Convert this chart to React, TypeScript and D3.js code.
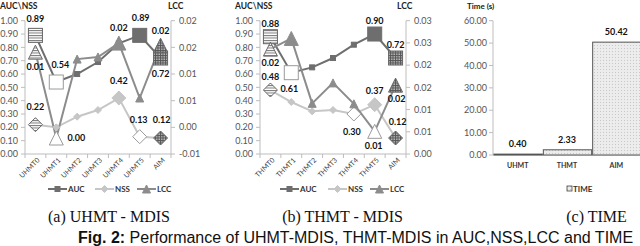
import React from 'react';
import * as d3 from 'd3';

// ---------- data ----------
const catsA = ['UHMT0', 'UHMT1', 'UHMT2', 'UHMT3', 'UHMT4', 'UHMT5', 'AIM'];
const aucA = [0.89, 0.54, 0.6, 0.69, 0.83, 0.89, 0.72];
const nssA = [0.22, 0.2, 0.28, 0.33, 0.42, 0.13, 0.12];
const lccA = [0.0141, -0.002, 0.0128, 0.0132, 0.0158, 0.0055, 0.0154];

const catsB = ['THMT0', 'THMT1', 'THMT2', 'THMT3', 'THMT4', 'THMT5', 'AIM'];
const aucB = [0.88, 0.61, 0.65, 0.72, 0.82, 0.9, 0.72];
const nssB = [0.48, 0.39, 0.32, 0.33, 0.3, 0.37, 0.12];
const lccB = [0.0236, 0.026, 0.0114, 0.016, 0.0113, 0.0051, 0.0155];

const leftTicks = [0, 0.1, 0.2, 0.3, 0.4, 0.5, 0.6, 0.7, 0.8, 0.9, 1.0];
const leftTickLabels = ['0.00', '0.10', '0.20', '0.30', '0.40', '0.50', '0.60', '0.70', '0.80', '0.90', '1.00'];
const rightTicksA = [-0.005, 0, 0.005, 0.01, 0.015, 0.02];
const rightTickLabelsA = ['-0.01', '0.00', '0.01', '0.01', '0.02', '0.02'];
const rightTicksB = [0, 0.005, 0.01, 0.015, 0.02, 0.025, 0.03];
const rightTickLabelsB = ['0.00', '0.01', '0.01', '0.02', '0.02', '0.03', '0.03'];

const timeCats = ['UHMT', 'THMT', 'AIM'];
const timeVals = [0.4, 2.33, 50.42];
const timeTicks = [0, 10, 20, 30, 40, 50, 60];
const timeTickLabels = ['0.00', '10.00', '20.00', '30.00', '40.00', '50.00', '60.00'];

// ---------- styles ----------
const FONT = 'Lato, "Liberation Sans", sans-serif';
const COLORS: Record<string, string> = { AUC: '#6e6e6e', NSS: '#c6c6c6', LCC: '#8c8c8c' };
const SHAPES: Record<string, string> = { AUC: 'square', NSS: 'diamond', LCC: 'triangle' };
const TOP = 20.7;
const BOT = 154;

type Hl = Record<number, string>;

function Marker({ shape, cx, cy, size, fill, stroke, sw = 1 }: any) {
  const h = size / 2;
  if (shape === 'square')
    return <rect x={cx - h} y={cy - h} width={size} height={size} fill={fill} stroke={stroke} strokeWidth={sw} />;
  if (shape === 'diamond')
    return (
      <polygon
        points={`${cx},${cy - h} ${cx + h},${cy} ${cx},${cy + h} ${cx - h},${cy}`}
        fill={fill}
        stroke={stroke}
        strokeWidth={sw}
      />
    );
  return (
    <polygon
      points={`${cx},${cy - h} ${cx + h},${cy + h} ${cx - h},${cy + h}`}
      fill={fill}
      stroke={stroke}
      strokeWidth={sw}
    />
  );
}

const smallSize: Record<string, number> = { square: 5, diamond: 7, triangle: 8 };

function specialStyle(kind: string, key: string) {
  if (kind === 'first') return { fill: 'url(#hlines)', stroke: '#666' };
  if (kind === 'last') return { fill: 'url(#gridpat)', stroke: '#666' };
  if (kind === 'min') return { fill: '#ffffff', stroke: '#9a9a9a' };
  return { fill: COLORS[key], stroke: COLORS[key] };
}

function LineChart({ x0, x1, cats, series, rDomain, rTicks, rLabels, labels, titleX, lccX, legendX, highlights }: any) {
  const yL = d3.scaleLinear().domain([0, 1]).range([BOT, TOP]);
  const yR = d3.scaleLinear().domain(rDomain).range([BOT, TOP]);
  const xb = d3.scaleBand().domain(cats).range([x0, x1]).padding(0);
  const bw = xb.bandwidth();
  const cx = (c: string) => (xb(c) as number) + bw / 2;
  const ys: Record<string, any> = { AUC: yL, NSS: yL, LCC: yR };
  const order = ['AUC', 'NSS', 'LCC'];
  const fmt = (v: number) => {
    const s = v.toFixed(2);
    return s === '-0.00' ? '0.00' : s;
  };
  return (
    <g fontFamily={FONT}>
      {/* axis titles */}
      <text x={titleX} y={9} fontSize={8.5} fontWeight="bold" fill="#222">
        AUC\NSS
      </text>
      <text x={lccX} y={9} fontSize={8.5} fontWeight="bold" fill="#222">
        LCC
      </text>
      {/* left axis */}
      <line x1={x0} x2={x0} y1={TOP} y2={BOT} stroke="#bdbdbd" />
      {leftTicks.map((t, i) => (
        <g key={'l' + i}>
          <line x1={x0 - 4} x2={x0} y1={yL(t)} y2={yL(t)} stroke="#bdbdbd" />
          <text x={x0 - 7} y={yL(t)} dy="0.35em" textAnchor="end" fontSize={9} fill="#555">
            {leftTickLabels[i]}
          </text>
        </g>
      ))}
      {/* right axis */}
      <line x1={x1} x2={x1} y1={TOP} y2={BOT} stroke="#bdbdbd" />
      {rTicks.map((t: number, i: number) => (
        <g key={'r' + i}>
          <line x1={x1} x2={x1 + 4} y1={yR(t)} y2={yR(t)} stroke="#bdbdbd" />
          <text x={x1 + 8} y={yR(t)} dy="0.35em" textAnchor="start" fontSize={9} fill="#555">
            {rLabels[i]}
          </text>
        </g>
      ))}
      {/* bottom axis */}
      <line x1={x0} x2={x1} y1={BOT} y2={BOT} stroke="#bdbdbd" />
      {cats.map((c: string, i: number) => (
        <g key={'c' + i}>
          <line x1={xb(c) as number} x2={xb(c) as number} y1={BOT} y2={BOT + 4} stroke="#bdbdbd" />
          <text
            transform={`translate(${cx(c) + 3},${BOT + 5}) rotate(-45)`}
            textAnchor="end"
            fontSize={7}
            fill="#444"
            dy="0.35em"
          >
            {c}
          </text>
        </g>
      ))}
      <line x1={x1} x2={x1} y1={BOT} y2={BOT + 4} stroke="#bdbdbd" />
      {/* lines */}
      {order.map((k) => {
        const line = d3
          .line<number>()
          .x((_, i) => cx(cats[i]))
          .y((v) => ys[k](v));
        return <path key={'p' + k} d={line(series[k]) as string} fill="none" stroke={COLORS[k]} strokeWidth={2} />;
      })}
      {/* markers */}
      {order.map((k) =>
        series[k].map((v: number, i: number) => {
          const kind = (highlights[k] as Hl)[i];
          const shape = SHAPES[k];
          if (kind) {
            const st = specialStyle(kind, k);
            return (
              <Marker key={k + i} shape={shape} cx={cx(cats[i])} cy={ys[k](v)} size={14} fill={st.fill} stroke={st.stroke} />
            );
          }
          return (
            <Marker
              key={k + i}
              shape={shape}
              cx={cx(cats[i])}
              cy={ys[k](v)}
              size={smallSize[shape]}
              fill={COLORS[k]}
              stroke={COLORS[k]}
            />
          );
        })
      )}
      {/* data labels */}
      {labels.map((l: any, j: number) => {
        const v = series[l[0]][l[1]];
        return (
          <text
            key={'dl' + j}
            x={cx(cats[l[1]]) + l[2]}
            y={ys[l[0]](v) + l[3]}
            dy="0.35em"
            textAnchor="middle"
            fontSize={9}
            fontWeight="bold"
            fill="#111"
          >
            {fmt(v)}
          </text>
        );
      })}
      {/* legend */}
      {order.map((k, i) => {
        const lx = legendX[i];
        return (
          <g key={'lg' + k}>
            <line x1={lx} x2={lx + 19} y1={189} y2={189} stroke={COLORS[k]} strokeWidth={2} />
            <Marker shape={SHAPES[k]} cx={lx + 9.5} cy={189} size={smallSize[SHAPES[k]]} fill={COLORS[k]} stroke={COLORS[k]} />
            <text x={lx + 20} y={189} dy="0.35em" fontSize={8} fontWeight="bold" fill="#333">
              {k}
            </text>
          </g>
        );
      })}
    </g>
  );
}

function TimeChart() {
  const x0 = 493;
  const x1 = 641;
  const y = d3.scaleLinear().domain([0, 60]).range([155, TOP]);
  const xb = d3.scaleBand().domain(timeCats).range([x0, x1]).padding(0);
  const bw = xb.bandwidth();
  return (
    <g fontFamily={FONT}>
      <text x={467} y={9} fontSize={8} fontWeight="bold" fill="#222">
        Time (s)
      </text>
      <line x1={x0} x2={x0} y1={TOP} y2={155} stroke="#bdbdbd" />
      {timeTicks.map((t, i) => (
        <g key={'t' + i}>
          <line x1={x0 - 4} x2={x0} y1={y(t)} y2={y(t)} stroke="#bdbdbd" />
          <text x={x0 - 6} y={y(t)} dy="0.35em" textAnchor="end" fontSize={9} fill="#555">
            {timeTickLabels[i]}
          </text>
        </g>
      ))}
      <line x1={x0} x2={x1} y1={155} y2={155} stroke="#bdbdbd" />
      {timeCats.map((c, i) => {
        const bx = xb(c) as number;
        return (
          <g key={'b' + i}>
            <rect x={bx + 1} y={y(timeVals[i])} width={bw - 1} height={155 - y(timeVals[i])} fill="url(#dots)" stroke="#555" strokeWidth={1} />
            <text x={bx + bw / 2} y={y(timeVals[i]) - 10} dy="0.35em" textAnchor="middle" fontSize={9} fontWeight="bold" fill="#111">
              {timeVals[i].toFixed(2)}
            </text>
            <text x={bx + bw / 2} y={166} dy="0.35em" textAnchor="middle" fontSize={7} fontWeight="bold" fill="#333">
              {c}
            </text>
          </g>
        );
      })}
      <rect x={567} y={186} width={5} height={5} fill="url(#dots)" stroke="#444" strokeWidth={0.8} />
      <text x={573} y={189} dy="0.35em" fontSize={8} fontWeight="bold" fill="#333">
        TIME
      </text>
    </g>
  );
}

const labelsA = [
  ['AUC', 0, 0, -17],
  ['AUC', 1, 4, -17],
  ['AUC', 5, 1, -18],
  ['AUC', 6, 0, 16],
  ['NSS', 0, 0, -18],
  ['NSS', 4, 0, -17],
  ['NSS', 5, -1, -17],
  ['NSS', 6, 1, -18],
  ['LCC', 0, 0, 15],
  ['LCC', 1, 20, 0],
  ['LCC', 4, 0, -15],
  ['LCC', 6, 0, -14],
];
const labelsB = [
  ['AUC', 0, 0, -13],
  ['AUC', 1, -2, 16],
  ['AUC', 5, 0, -13],
  ['AUC', 6, 0, -13],
  ['NSS', 0, 0, -13],
  ['NSS', 4, -2, 18],
  ['NSS', 5, 0, -14],
  ['NSS', 6, 2, -16],
  ['LCC', 0, 0, 14],
  ['LCC', 5, -1, 15],
  ['LCC', 6, 1, 14],
];
const hlA = {
  AUC: { 0: 'first', 1: 'min', 5: 'max', 6: 'last' },
  NSS: { 0: 'first', 4: 'max', 5: 'min', 6: 'last' },
  LCC: { 0: 'first', 1: 'min', 4: 'max', 6: 'last' },
};
const hlB = {
  AUC: { 0: 'first', 1: 'min', 5: 'max', 6: 'last' },
  NSS: { 0: 'first', 4: 'min', 5: 'max', 6: 'last' },
  LCC: { 0: 'first', 1: 'max', 5: 'min', 6: 'last' },
};

export default function App() {
  return (
    <svg width={640} height={246} style={{ position: 'absolute', left: 0, top: 0, background: '#fff' }}>
      <defs>
        <pattern id="hlines" width={4} height={2.5} patternUnits="userSpaceOnUse">
          <rect width={4} height={2.5} fill="#fff" />
          <rect width={4} height={1} fill="#777" />
        </pattern>
        <pattern id="gridpat" width={2.5} height={2.5} patternUnits="userSpaceOnUse">
          <rect width={2.5} height={2.5} fill="#bbb" />
          <rect width={2.5} height={1} fill="#555" />
          <rect width={1} height={2.5} fill="#555" />
        </pattern>
        <pattern id="dots" width={3} height={3} patternUnits="userSpaceOnUse">
          <rect width={3} height={3} fill="#ececec" />
          <rect width={1} height={1} fill="#c8c8c8" />
        </pattern>
      </defs>
      <LineChart
        x0={25}
        x1={171}
        cats={catsA}
        series={{ AUC: aucA, NSS: nssA, LCC: lccA }}
        rDomain={[-0.005, 0.02]}
        rTicks={rightTicksA}
        rLabels={rightTickLabelsA}
        labels={labelsA}
        titleX={0}
        lccX={168}
        legendX={[48, 95, 137]}
        highlights={hlA}
      />
      <LineChart
        x0={260}
        x1={406}
        cats={catsB}
        series={{ AUC: aucB, NSS: nssB, LCC: lccB }}
        rDomain={[0, 0.03]}
        rTicks={rightTicksB}
        rLabels={rightTickLabelsB}
        labels={labelsB}
        titleX={235}
        lccX={397}
        legendX={[280, 328, 370]}
        highlights={hlB}
      />
      <TimeChart />
      <g fontFamily='"Liberation Serif", serif' fontSize={16} fill="#111" textAnchor="middle">
        <text x={109} y={222}>(a) UHMT - MDIS</text>
        <text x={342.5} y={222}>(b) THMT - MDIS</text>
        <text x={596.5} y={222}>(c) TIME</text>
      </g>
      <text x={78} y={243} fontFamily='"Liberation Sans", Arial, sans-serif' fontSize={16} fill="#111">
        <tspan fontWeight="bold">Fig. 2:</tspan>
        <tspan> Performance of UHMT-MDIS, THMT-MDIS in AUC,NSS,LCC and TIME</tspan>
      </text>
    </svg>
  );
}
